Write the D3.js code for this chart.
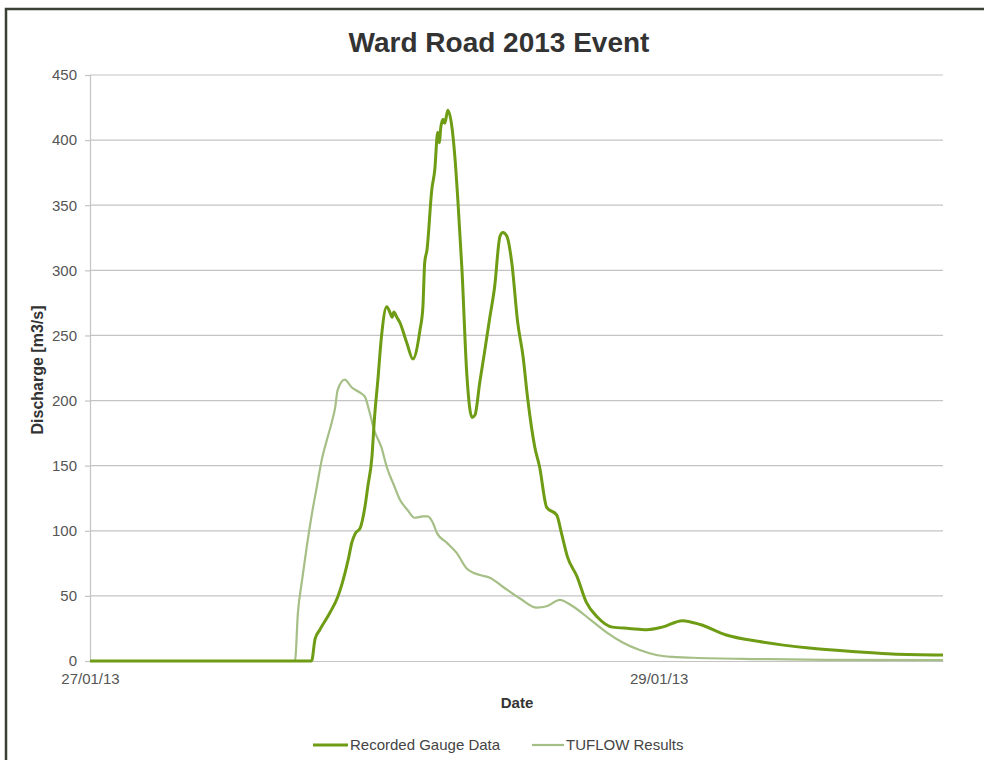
<!DOCTYPE html>
<html>
<head>
<meta charset="utf-8">
<script src="https://cdn.jsdelivr.net/npm/d3@7"></script>
<style>
  body { margin: 0; background: #fff; }
  text { font-family: "Liberation Sans", Arial, sans-serif; }
</style>
</head>
<body>
<div id="chart"></div>
<script>
// hours after 27/01/13 00:00 and discharge in m3/s
const gaugeHours = [0, 18.7, 19.0, 19.4, 20.25, 20.9, 21.3, 21.8, 22.1, 22.4, 22.8, 23.2, 23.45, 23.8, 24.0, 24.3, 24.6, 25.05, 25.3, 25.5, 25.65, 25.9, 26.15, 26.75, 27.25, 27.85, 28.1, 28.25, 28.45, 28.85, 29.1, 29.35, 29.5, 29.6, 29.8, 29.95, 30.2, 30.55, 30.8, 31.05, 31.4, 31.8, 32.25, 32.5, 32.9, 33.3, 33.75, 34.15, 34.6, 34.85, 35.2, 35.6, 36.1, 36.55, 36.95, 37.55, 37.95, 38.55, 39.4, 39.8, 40.3, 41.1, 41.9, 42.8, 44.1, 45.5, 47.0, 48.3, 50.0, 51.5, 53.7, 56.5, 60.7, 65.0, 67.7, 72.0];
const gaugeFlow = [0, 0, 17, 24, 37, 49, 60, 78, 91, 98, 102, 118, 134, 157, 185, 216, 249, 272, 268, 264, 268, 264, 260, 244, 232, 254, 272, 306, 316, 362, 377, 406, 398, 409, 416, 413, 423, 410, 387, 354, 300, 221, 187, 189, 214, 237, 264, 287, 326, 329, 326, 306, 260, 234, 201, 164, 149, 118, 112, 98, 80, 65, 45, 34, 26, 25, 24, 26, 31, 28, 20, 15, 10, 7, 5.4, 4.6];

const tuflowHours = [0, 17.3, 17.55, 17.9, 18.3, 18.75, 19.15, 19.55, 20.0, 20.4, 20.7, 20.9, 21.5, 22.1, 22.8, 23.2, 23.6, 24.0, 24.6, 25.05, 25.7, 26.15, 26.8, 27.4, 28.1, 28.5, 28.95, 29.3, 30.1, 30.95, 31.8, 32.9, 33.75, 34.85, 36.3, 37.7, 38.55, 39.65, 40.75, 42.2, 43.6, 45.0, 46.4, 47.8, 49.2, 50.9, 56.5, 62.2, 72.0];
const tuflowFlow = [0, 0, 37, 62, 88, 114, 134, 154, 170, 183, 195, 208, 216, 210, 206, 203, 191, 177, 164, 149, 134, 124, 116, 110, 111, 111, 106, 98, 91, 83, 71, 66, 64, 57, 48, 41, 42, 47, 42, 32, 22, 14, 8.4, 4.6, 3.1, 2.5, 1.5, 0.8, 0.6];

const yTicks = [0, 50, 100, 150, 200, 250, 300, 350, 400, 450];
const xTickLabels = ["27/01/13", "29/01/13"];
const seriesNames = ["Recorded Gauge Data", "TUFLOW Results"];

const start = new Date(2013, 0, 27);
const toDate = (h) => new Date(start.getTime() + h * 3600 * 1000);
const parse = d3.timeParse("%d/%m/%y");

const gauge = gaugeHours.map((h, i) => ({ t: toDate(h), v: gaugeFlow[i] }));
const tuflow = tuflowHours.map((h, i) => ({ t: toDate(h), v: tuflowFlow[i] }));

const width = 984, height = 760;
const svg = d3.select("#chart").append("svg")
    .attr("width", width)
    .attr("height", height);

svg.append("rect").attr("width", width).attr("height", height).attr("fill", "#fff");

// frame (only top and left edges show in the picture)
svg.append("path")
    .attr("d", "M6,760 V9 H984")
    .attr("fill", "none")
    .attr("stroke", "#3a4034")
    .attr("stroke-width", 2.5);

const x = d3.scaleTime()
    .domain([start, toDate(72)])
    .range([90, 943]);

const y = d3.scaleLinear()
    .domain([0, 450])
    .range([661, 75]);

// grid
svg.append("g")
    .selectAll("line")
    .data(yTicks.slice(1))
    .enter()
    .append("line")
    .attr("x1", 90).attr("x2", 943)
    .attr("y1", d => y(d)).attr("y2", d => y(d))
    .attr("stroke", "#c4c4c4")
    .attr("stroke-width", 1.2);

// y axis
const yAxis = svg.append("g")
    .attr("transform", "translate(90,0)")
    .call(d3.axisLeft(y).tickValues(yTicks).tickSize(5).tickPadding(8));
yAxis.selectAll("text").attr("font-size", 15).attr("fill", "#555").attr("font-family", "Liberation Sans, Arial, sans-serif");
yAxis.selectAll("line, path").attr("stroke", "#c4c4c4").attr("stroke-width", 1.2);

// x axis
const xAxis = svg.append("g")
    .attr("transform", "translate(0,661)")
    .call(d3.axisBottom(x)
        .tickValues(xTickLabels.map(parse))
        .tickFormat(d3.timeFormat("%d/%m/%y"))
        .tickSize(0).tickPadding(12));
xAxis.selectAll("text").attr("font-size", 15).attr("fill", "#555").attr("font-family", "Liberation Sans, Arial, sans-serif");
xAxis.select("path").attr("stroke", "#c4c4c4").attr("stroke-width", 1.2);

// lines
const line = d3.line()
    .x(d => x(d.t))
    .y(d => y(d.v))
    .curve(d3.curveMonotoneX);

svg.append("path")
    .datum(tuflow)
    .attr("d", line)
    .attr("fill", "none")
    .attr("stroke", "#a5bf86")
    .attr("stroke-width", 2.2);

svg.append("path")
    .datum(gauge)
    .attr("d", line)
    .attr("fill", "none")
    .attr("stroke", "#6e9c14")
    .attr("stroke-width", 3);

// titles
svg.append("text")
    .attr("x", 499).attr("y", 52)
    .attr("text-anchor", "middle")
    .attr("font-size", 28)
    .attr("font-weight", "bold")
    .attr("fill", "#333")
    .text("Ward Road 2013 Event");

svg.append("text")
    .attr("x", 517).attr("y", 708)
    .attr("text-anchor", "middle")
    .attr("font-size", 15)
    .attr("font-weight", "bold")
    .attr("fill", "#333")
    .text("Date");

svg.append("text")
    .attr("transform", "translate(43,370) rotate(-90)")
    .attr("text-anchor", "middle")
    .attr("font-size", 16)
    .attr("font-weight", "bold")
    .attr("fill", "#333")
    .text("Discharge [m3/s]");

// legend
const legend = [
  { name: seriesNames[0], x1: 313, x2: 348, color: "#6e9c14", w: 3 },
  { name: seriesNames[1], x1: 532, x2: 564, color: "#a5bf86", w: 2.2 }
];
const lg = svg.append("g").selectAll("g").data(legend).enter().append("g");
lg.append("line")
    .attr("x1", d => d.x1).attr("x2", d => d.x2)
    .attr("y1", 745).attr("y2", 745)
    .attr("stroke", d => d.color)
    .attr("stroke-width", d => d.w);
lg.append("text")
    .attr("x", d => d.x2 + 2).attr("y", 750)
    .attr("font-size", 15)
    .attr("fill", "#444")
    .text(d => d.name);
</script>
</body>
</html>
